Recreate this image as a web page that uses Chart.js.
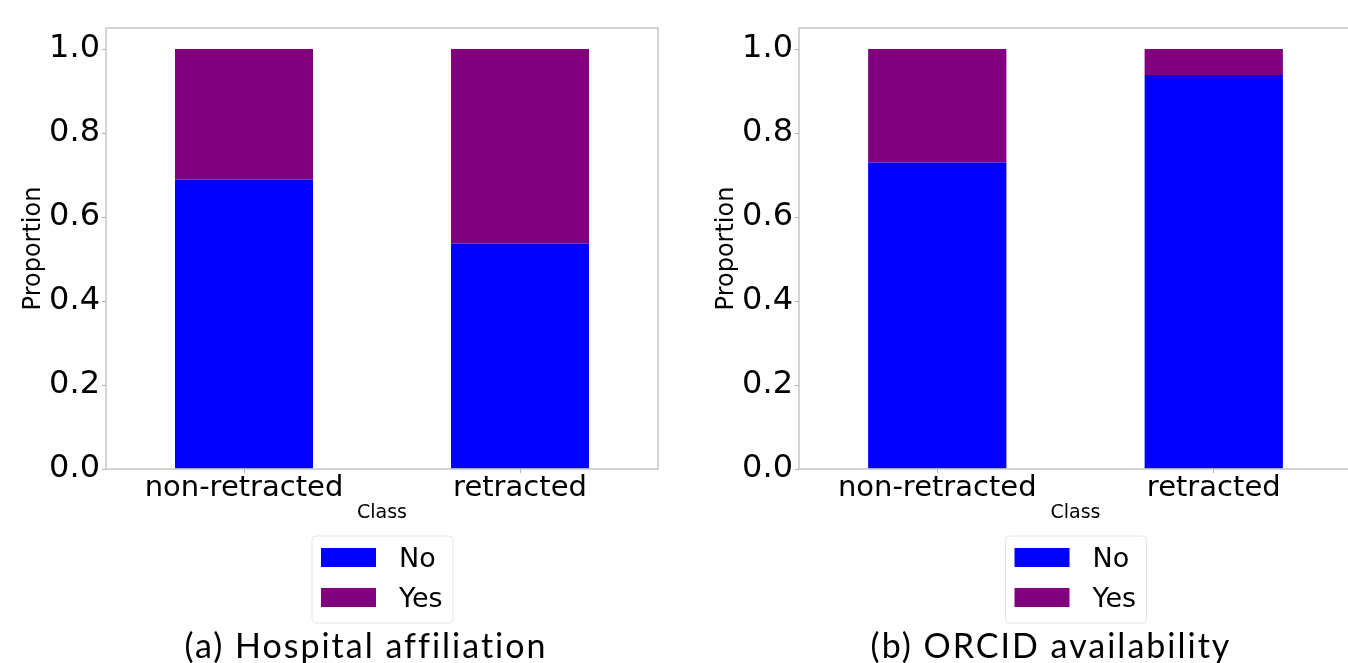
<!DOCTYPE html>
<html>
<head>
<meta charset="utf-8">
<title>Hospital affiliation and ORCID availability by class</title>
<script src="https://cdn.jsdelivr.net/npm/chart.js@4.4.1/dist/chart.umd.min.js"></script>
<style>
  html, body { margin: 0; padding: 0; background: #ffffff; }
  body { width: 1348px; height: 663px; overflow: hidden; position: relative; }
  canvas { position: absolute; top: 0; }
  #chartA { left: 0px; }
  #chartB { left: 693px; }
  .caption {
    position: absolute; top: 621px; width: 600px; margin-left: -300px;
    text-align: center; font-family: Lato, "Open Sans", sans-serif; font-weight: 400;
    font-size: 34px; letter-spacing: 2px; color: #000; white-space: nowrap; line-height: 48px;
  }
</style>
</head>
<body>
<canvas id="chartA" width="674" height="663"></canvas>
<canvas id="chartB" width="675" height="663"></canvas>
<div class="caption" style="left:366px">(a) Hospital affiliation</div>
<div class="caption" style="left:1051px">(b) ORCID availability</div>
<script>
// Classes on the x axis
const categories = ['non-retracted', 'retracted'];
// Proportion of papers with a hospital affiliation
const hospitalNo = [0.689, 0.537];
const hospitalYes = [0.311, 0.463];
// Proportion of papers with an ORCID
const orcidNo = [0.730, 0.938];
const orcidYes = [0.270, 0.062];
// Y axis ticks
const yTicks = [0.0, 0.2, 0.4, 0.6, 0.8, 1.0];
const seriesLabels = ['No', 'Yes'];
const seriesColors = ['#0000ff', '#800080'];

const FONT = '"DejaVu Sans", sans-serif';

// Plot frame and boxed legend underneath the axis title
const framePlugin = {
  id: 'frameAndLegend',
  afterDraw(chart) {
    const ctx = chart.ctx;
    const ca = chart.chartArea;
    ctx.save();
    ctx.strokeStyle = '#bdbdbd';
    ctx.lineWidth = 1.3;
    ctx.strokeRect(ca.left, ca.top, ca.right - ca.left, ca.bottom - ca.top);

    const cx = (ca.left + ca.right) / 2;
    const top = ca.bottom + 67;
    // legend box
    const bx = cx - 70, bw = 141, bh = 87, r = 4;
    ctx.beginPath();
    ctx.moveTo(bx + r, top);
    ctx.arcTo(bx + bw, top, bx + bw, top + bh, r);
    ctx.arcTo(bx + bw, top + bh, bx, top + bh, r);
    ctx.arcTo(bx, top + bh, bx, top, r);
    ctx.arcTo(bx, top, bx + bw, top, r);
    ctx.closePath();
    ctx.fillStyle = 'rgba(255,255,255,0.8)';
    ctx.fill();
    ctx.strokeStyle = '#e4e4e4';
    ctx.lineWidth = 1;
    ctx.stroke();

    chart.data.datasets.forEach((ds, i) => {
      const y = top + 12 + i * 40;
      ctx.fillStyle = ds.backgroundColor;
      ctx.fillRect(cx - 61, y, 55, 19);
      ctx.fillStyle = '#000';
      ctx.font = '27px ' + FONT;
      ctx.textAlign = 'left';
      ctx.textBaseline = 'middle';
      ctx.fillText(ds.label, cx + 17, y + 12);
    });
    ctx.restore();
  }
};

function makeChart(id, noValues, yesValues) {
  return new Chart(document.getElementById(id), {
    type: 'bar',
    data: {
      labels: categories,
      datasets: [
        { label: seriesLabels[0], data: noValues, backgroundColor: seriesColors[0] },
        { label: seriesLabels[1], data: yesValues, backgroundColor: seriesColors[1] }
      ]
    },
    options: {
      responsive: false,
      animation: false,
      layout: { padding: { left: 0, top: 28, right: 16, bottom: 139 } },
      datasets: { bar: { barPercentage: 0.5, categoryPercentage: 1.0, borderWidth: 0 } },
      plugins: { legend: { display: false }, tooltip: { enabled: false } },
      scales: {
        x: {
          stacked: true,
          offset: true,
          border: { display: false },
          grid: { display: true, drawOnChartArea: false, tickLength: 4, color: '#b0b0b0', offset: false },
          ticks: { color: '#000', padding: -2, font: { family: FONT, size: 29 } },
          title: { display: true, text: 'Class', color: '#000', padding: 0, font: { family: FONT, size: 19 } },
          afterFit(scale) { scale.height = 55; }
        },
        y: {
          stacked: true,
          min: 0,
          max: 1.05,
          border: { display: false },
          grid: { display: true, drawOnChartArea: false, tickLength: 4, color: '#b0b0b0' },
          afterBuildTicks(scale) { scale.ticks = yTicks.map(v => ({ value: v })); },
          ticks: {
            color: '#000', padding: 2, font: { family: FONT, size: 32 },
            callback: v => Number(v).toFixed(1)
          },
          title: { display: true, text: 'Proportion', color: '#000', padding: { top: 19, bottom: 0 }, font: { family: FONT, size: 24 } },
          afterFit(scale) { scale.width = 106; }
        }
      }
    },
    plugins: [framePlugin]
  });
}

makeChart('chartA', hospitalNo, hospitalYes);
makeChart('chartB', orcidNo, orcidYes);
</script>
</body>
</html>
